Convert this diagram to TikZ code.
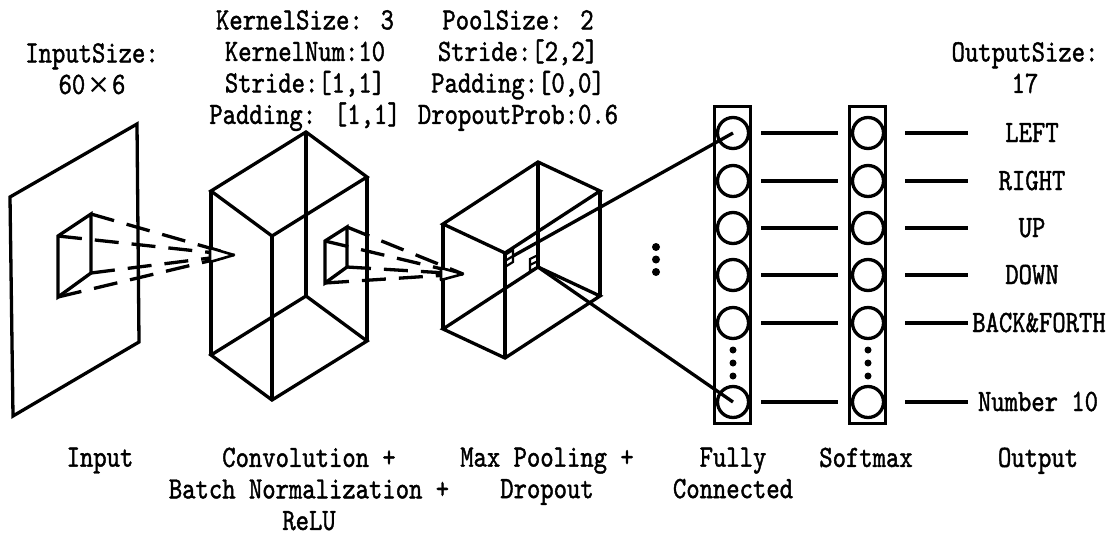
\documentclass[tikz,border=0pt]{standalone}
\usepackage{fontspec}
\setmainfont{lmmono10-regular.otf}[FakeStretch=0.82,FakeBold=1.3]
\newfontfamily\timesglyph{DejaVu Sans}
\begin{document}
\begin{tikzpicture}[x=1pt,y=-1pt,line width=3.3pt,
  neuron/.style={circle,draw,minimum size=31pt,inner sep=0pt},
  column/.style={draw,minimum width=36pt,minimum height=317pt,inner sep=0pt},
  caption/.style={align=center,anchor=north,inner sep=0pt,font=\fontsize{31}{31.5}\selectfont},
  outlabel/.style={anchor=base,inner sep=0pt,font=\fontsize{31}{32}\selectfont},
  feed/.style={dash pattern=on 24pt off 13pt},
  tiphead/.style={fill=white,line join=round,line width=2.6pt},
  bigdot/.style={circle,fill,inner sep=0pt,minimum size=8pt},
  smalldot/.style={circle,fill,inner sep=0pt,minimum size=7pt}]
\useasboundingbox (0,0) rectangle (1113,536);

% ---- input plane with its receptive field ----
\draw (10,197) -- (137,124) -- (139,342) -- (13,416) -- cycle;
\coordinate (a1) at (58,236);
\coordinate (a2) at (91,214);
\coordinate (a3) at (91,273);
\coordinate (a4) at (58,297);
\draw (a1) -- (a2) -- (a3) -- (a4) -- cycle;

% ---- convolution block ----
\coordinate (cB) at (306,132);
\coordinate (cL) at (211,191);
\coordinate (cF) at (272,236);
\coordinate (cR) at (367,177);
\coordinate (cB2) at (306,296);
\coordinate (cL2) at (211,355);
\coordinate (cF2) at (272,400);
\coordinate (cR2) at (367,341);
\draw (cB) -- (cL) -- (cF) -- (cR) -- cycle;
\draw (cB2) -- (cL2) -- (cF2) -- (cR2) -- cycle;
\draw (cB) -- (cB2) (cL) -- (cL2) (cF) -- (cF2) (cR) -- (cR2);

% dashed projection from the input field
\coordinate (t1) at (234,255);
\foreach \c in {a1,a2,a3,a4} \draw[feed] (\c) -- (t1);
\draw[tiphead] (210,248) -- (t1) -- (210,262) -- cycle;

% kernel window inside the convolution block
\coordinate (b1) at (325,241);
\coordinate (b2) at (347,227);
\coordinate (b3) at (347,267);
\coordinate (b4) at (325,283);
\draw (b1) -- (b2) -- (b3) -- (b4) -- cycle;

% ---- pooling block ----
\coordinate (pB) at (538,162);
\coordinate (pL) at (443,224);
\coordinate (pF) at (505,253);
\coordinate (pR) at (600,191);
\coordinate (pB2) at (538,267);
\coordinate (pL2) at (443,329);
\coordinate (pF2) at (505,358);
\coordinate (pR2) at (600,296);
\draw (pB) -- (pL) -- (pF) -- (pR) -- cycle;
\draw (pB2) -- (pL2) -- (pF2) -- (pR2) -- cycle;
\draw (pB) -- (pB2) (pL) -- (pL2) (pF) -- (pF2) (pR) -- (pR2);

\coordinate (t2) at (463,274);
\foreach \c in {b1,b2,b3,b4} \draw[feed] (\c) -- (t2);
\draw[tiphead] (441,268) -- (t2) -- (441,280) -- cycle;

% pooled units
\draw[line width=2.2pt] (505,255) -- (513,250) -- (513,262) -- (505,267) -- cycle
  (505,261) -- (513,256);
\draw[line width=2.2pt] (530,259) -- (538,255) -- (538,267) -- (530,271) -- cycle
  (530,265) -- (538,261);
\coordinate (p1) at (513,256);
\coordinate (p2) at (538,267);

% vertical ellipsis between pooling and dense layers
\node[bigdot] (e1) at (656,247) {};
\node[bigdot] (e2) at (656,259.5) {};
\node[bigdot] (e3) at (656,272) {};

% ---- fully connected and softmax columns ----
\node[column] (fccol) at (732.5,265) {};
\node[column] (smcol) at (867.5,265) {};
\foreach \i/\y in {1/133,2/181,3/228,4/275,5/323,6/402} {
  \node[neuron] (f\i) at (733,\y) {};
  \node[neuron] (s\i) at (868,\y) {};
  \draw[shorten <=11pt,shorten >=13pt] (f\i) -- (s\i);
  \coordinate (o\i) at (968,\y);
  \draw[shorten <=20pt] (s\i) -- (o\i);
}
\foreach \n/\x in {f/733,s/868} {
  \node[smalldot] (\n d1) at (\x,350) {};
  \node[smalldot] (\n d2) at (\x,363) {};
  \node[smalldot] (\n d3) at (\x,376) {};
}
\draw (p1) -- (f1.center);
\draw (p2) -- (f6.center);

% ---- output classes ----
\node[outlabel] (l1) at (1032,142) {LEFT};
\node[outlabel] (l2) at (1032,190) {RIGHT};
\node[outlabel] (l3) at (1032,237) {UP};
\node[outlabel] (l4) at (1032,284) {DOWN};
\node[outlabel] (l5) at (1039,332) {BACK\&FORTH};
\node[outlabel] (l6) at (1038,411) {Number 10};

% ---- parameter captions ----
\node[caption] (insize) at (92,41.5) {InputSize:\\60\makebox[26.8pt]{\timesglyph\fontsize{27}{27}\selectfont ×}6};
\node[caption] (convp) at (305,8.5) {KernelSize: 3\\KernelNum:10\\Stride:[1,1]\\Padding: [1,1]};
\node[caption] (poolp) at (518,8.5) {PoolSize: 2\\Stride:[2,2]\\Padding:[0,0]\\DropoutProb:0.6};
\node[caption] (outsize) at (1025,40.5) {OutputSize:\\17};

% ---- layer names ----
\node[caption] (cin) at (100,446) {Input};
\node[caption] (cconv) at (309,446) {Convolution +\\Batch Normalization +\\ReLU};
\node[caption] (cpool) at (547,446) {Max Pooling +\\Dropout};
\node[caption] (cfc) at (733,446) {Fully\\Connected};
\node[caption] (csm) at (866,446) {Softmax};
\node[caption] (cout) at (1038,446) {Output};
\end{tikzpicture}
\end{document}
